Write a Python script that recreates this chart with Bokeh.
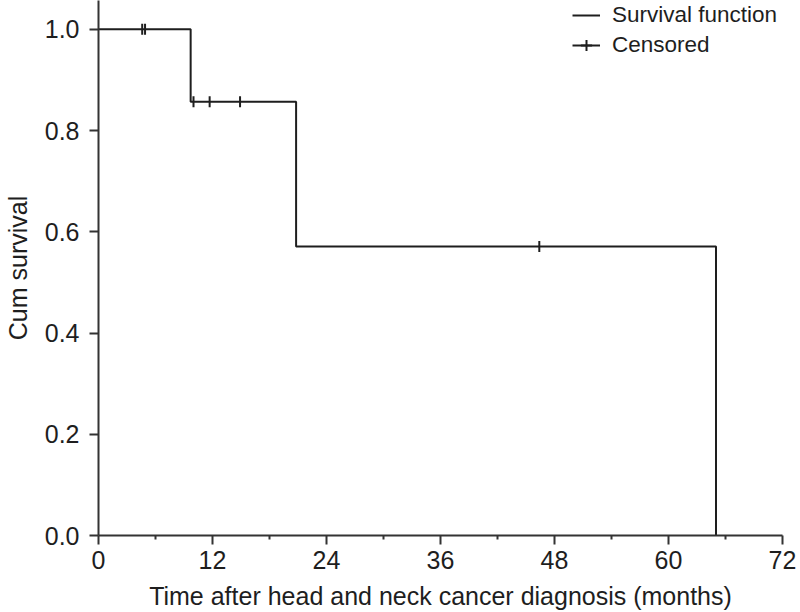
import math
from bokeh.plotting import figure
from bokeh.models import Range1d, FixedTicker, Legend, LegendItem, CustomJSTickFormatter
from bokeh.embed import file_html
from bokeh.resources import INLINE

# Kaplan-Meier step data (months, cumulative survival)
event_times = [0, 9.7, 20.8, 65.0]
survival = [1.0, 0.857, 0.571, 0.0]

# Censored observations
censor_times = [4.6, 4.9, 10.0, 11.7, 14.9, 46.4]
censor_surv = [1.0, 1.0, 0.857, 0.857, 0.857, 0.571]

x_ticks = [0, 12, 24, 36, 48, 60, 72]
x_minor = [6, 18, 30, 42, 54, 66]
y_ticks = [0.0, 0.2, 0.4, 0.6, 0.8, 1.0]

FONT = "Liberation Sans"
INK = "#1e1e1e"
FS = "25px"

p = figure(frame_width=684, frame_height=535, output_backend="svg",
           toolbar_location=None, x_range=Range1d(0, 72), y_range=Range1d(0, 1.057),
           min_border_left=91, min_border_right=17, min_border_top=0, min_border_bottom=0)
p.outline_line_color = None
p.grid.grid_line_color = None

p.xaxis.ticker = FixedTicker(ticks=x_ticks, minor_ticks=x_minor)
p.yaxis.ticker = FixedTicker(ticks=y_ticks, minor_ticks=[])
p.yaxis.formatter = CustomJSTickFormatter(code="return tick.toFixed(1);")

for ax in (p.xaxis, p.yaxis):
    ax.axis_line_width = 2
    ax.axis_line_color = "#333333"
    ax.major_tick_line_width = 2
    ax.major_tick_line_color = "#333333"
    ax.minor_tick_line_width = 2
    ax.minor_tick_line_color = "#333333"
    ax.major_tick_out = 9
    ax.major_tick_in = 0
    ax.minor_tick_out = 4
    ax.minor_tick_in = 0
    ax.major_label_text_font = FONT
    ax.major_label_text_font_size = FS
    ax.major_label_text_color = INK
    ax.axis_label_text_font = FONT
    ax.axis_label_text_font_size = FS
    ax.axis_label_text_font_style = "normal"
    ax.axis_label_text_color = INK

p.xaxis.axis_label = "Time after head and neck cancer diagnosis (months)"
p.yaxis.axis_label = "Cum survival"
p.xaxis.major_label_standoff = 6
p.yaxis.major_label_standoff = 10
p.xaxis.axis_label_standoff = 10
p.yaxis.axis_label_standoff = 10

step_r = p.step(event_times, survival, mode="after", line_color=INK, line_width=2)
cens_r = p.scatter(censor_times, censor_surv, marker="dash", angle=math.pi / 2,
                   size=11, line_color=INK, line_width=2)
# legend-only "+" icon for censored observations (not drawn on the plot)
cens_icon = p.scatter(censor_times, censor_surv, marker="cross",
                      size=11, line_color=INK, line_width=2, visible=False)

legend = Legend(items=[LegendItem(label="Survival function", renderers=[step_r]),
                       LegendItem(label="Censored", renderers=[step_r, cens_icon])],
                location=(474, 475), orientation="vertical",
                border_line_alpha=0, background_fill_alpha=0,
                padding=0, margin=0, spacing=0,
                glyph_width=28, glyph_height=30, label_height=25,
                label_standoff=12,
                label_text_font=FONT, label_text_font_size="22.5px",
                label_text_color=INK)
p.add_layout(legend)

open("out.html", "w").write(file_html(p, INLINE))
